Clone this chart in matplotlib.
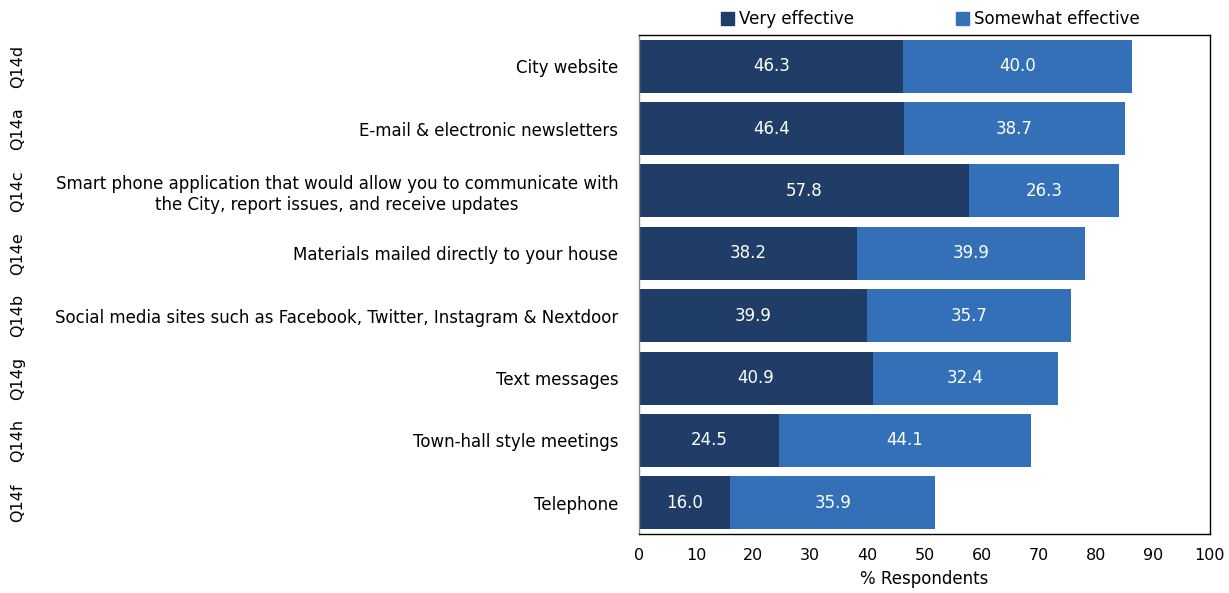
import matplotlib
matplotlib.use("Agg")
import matplotlib.pyplot as plt
from matplotlib.patches import Patch

codes = ["Q14d", "Q14a", "Q14c", "Q14e", "Q14b", "Q14g", "Q14h", "Q14f"]
labels = [
    "City website",
    "E-mail & electronic newsletters",
    "Smart phone application that would allow you to communicate with\nthe City, report issues, and receive updates",
    "Materials mailed directly to your house",
    "Social media sites such as Facebook, Twitter, Instagram & Nextdoor",
    "Text messages",
    "Town-hall style meetings",
    "Telephone",
]
very = [46.3, 46.4, 57.8, 38.2, 39.9, 40.9, 24.5, 16.0]
somewhat = [40.0, 38.7, 26.3, 39.9, 35.7, 32.4, 44.1, 35.9]
xticks = [0, 10, 20, 30, 40, 50, 60, 70, 80, 90, 100]

dark = "#1F3D66"
light = "#3470B8"

plt.rcParams["font.family"] = ["DejaVu Sans"]

fig = plt.figure(figsize=(12.29, 5.93), dpi=100)
ax = fig.add_axes([0.52, 0.0995, 0.4645, 0.8415])

y = list(range(len(labels)))
ax.barh(y, very, height=0.85, color=dark)
ax.barh(y, somewhat, left=very, height=0.85, color=light)

for i in y:
    ax.text(very[i] / 2, i, f"{very[i]:.1f}", color="white", ha="center", va="center", fontsize=12)
    ax.text(very[i] + somewhat[i] / 2, i, f"{somewhat[i]:.1f}", color="white", ha="center", va="center", fontsize=12)

ax.set_xlim(0, 100)
ax.set_ylim(len(labels) - 0.5, -0.5)
ax.set_xticks(xticks)
ax.set_xticklabels([str(t) for t in xticks], fontsize=11.5)
ax.set_yticks(y)
ax.set_yticklabels(labels, fontsize=12, ha="right", multialignment="center", linespacing=1.25)
ax.tick_params(length=0, pad=15, axis="y")
ax.tick_params(length=0, pad=10, axis="x")
ax.set_xlabel("% Respondents", fontsize=12, labelpad=5)
for s in ax.spines.values():
    s.set_linewidth(1.0)
    s.set_color("black")
ax.spines["left"].set_color("#888888")

# question codes on the far left
for i, c in enumerate(codes):
    yd = ax.transData.transform((0, i))[1]
    yf = fig.transFigure.inverted().transform((0, yd))[1]
    fig.text(18 / 1229, yf, c, rotation=90, ha="center", va="center", fontsize=11.5)

handles = [Patch(color=dark, label="Very effective"), Patch(color=light, label="Somewhat effective")]
fig.legend(handles=handles, loc="upper center", bbox_to_anchor=(0.757, 1.008), ncol=2, frameon=False,
           fontsize=12, handlelength=0.8, handleheight=0.8, handletextpad=0.3, columnspacing=6.1)

fig.savefig("out.png", dpi=100)
